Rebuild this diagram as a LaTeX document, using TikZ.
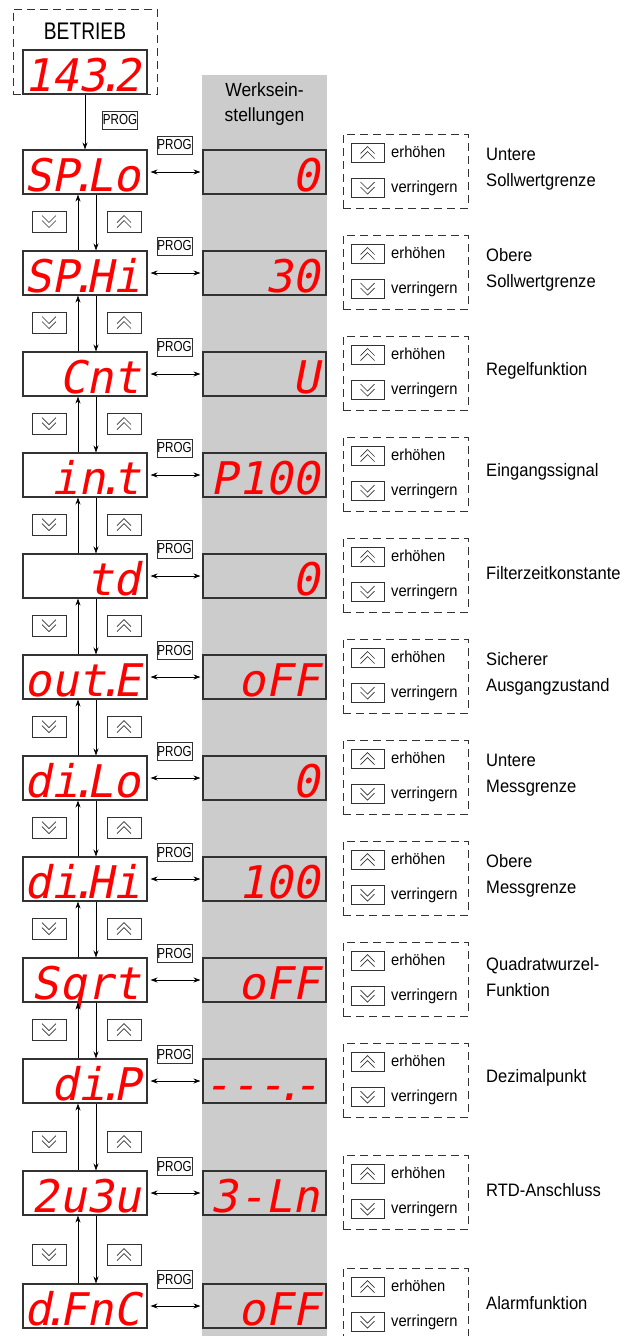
\documentclass[tikz,border=0pt]{standalone}
\usepackage{fontspec}
\usetikzlibrary{arrows.meta,calc}
\setmainfont{Liberation Sans}[FakeStretch=0.92]
\newfontfamily\condfont{Liberation Sans}[FakeStretch=0.8]
\newfontfamily\segfont{DejaVu Sans Mono}[FakeSlant=0.2]
\newcommand\dt{\makebox[0.16em]{.}}
\definecolor{colgray}{RGB}{204,204,204}
\definecolor{edge}{RGB}{50,50,50}
\definecolor{segred}{RGB}{255,0,0}
\tikzset{
 disp/.style={draw=edge, line width=1.1pt, minimum width=124pt, minimum height=44pt, inner sep=0pt},
 rdisp/.style={disp, fill=colgray, minimum width=123pt},
 segtext/.style={inner sep=0pt, text=segred, font=\segfont\fontsize{45}{45}\selectfont, anchor=base east},
 progbox/.style={draw=edge, line width=0.8pt, minimum width=35pt, minimum height=18pt, inner sep=0pt, font=\condfont\fontsize{14.5}{14.5}\selectfont},
 keybox/.style={draw=edge, line width=0.8pt, minimum width=34pt, minimum height=21pt, inner sep=0pt},
 smallkey/.style={keybox, minimum width=33pt, minimum height=19pt},
 grpbox/.style={draw=edge, dash pattern=on 8pt off 5pt, line width=0.9pt, minimum width=125pt, minimum height=74pt, inner sep=0pt},
 keylabel/.style={anchor=west, inner sep=0pt, font=\fontsize{16}{17}\selectfont},
 desc/.style={anchor=west, inner sep=0pt, align=left, font=\fontsize{18}{26}\selectfont},
 arr/.style={line width=0.8pt, draw=black, -{Stealth[length=7pt,width=5pt]}},
 darr/.style={line width=0.8pt, draw=black, {Stealth[length=7pt,width=5pt]}-{Stealth[length=7pt,width=5pt]}},
 upicon/.pic={\draw[line width=0.7pt, edge] (-7,1)--(0,-6)--(7,1) (-7,6)--(0,-1)--(7,6);},
 dnicon/.pic={\draw[line width=0.7pt, edge] (-7,-6)--(0,1)--(7,-6) (-7,-1)--(0,6)--(7,-1);}
}
\begin{document}
\begin{tikzpicture}[x=1pt,y=-1pt]
\useasboundingbox (0,0) rectangle (624,1336);
\clip (0,0) rectangle (624,1336);
\fill[colgray] (202,75) rectangle (327,1336);
\node[font=\fontsize{19}{25}\selectfont, align=center, inner sep=0pt] (werk) at (264.5,104.5) {Werksein-\\stellungen};
% Betrieb
\node[draw=edge, dash pattern=on 8pt off 5pt, line width=0.9pt, minimum width=144pt, minimum height=85pt, inner sep=0pt] (betr) at (85,51.5) {};
\node[font=\condfont\fontsize{24}{24}\selectfont, inner sep=0pt] (betrt) at (85,31) {BETRIEB};
\node[disp] (L0) at (85,72) {};
\node[segtext] (LT0) at ($(L0.south east)+(-7,-3)$) {143\dt2};
\node[progbox] (P0) at (120,120) {PROG};
% rows
\foreach \i/\y/\lt/\rt/\desctext in {
 1/150/{SP\dt Lo}/{0}/{Untere\\Sollwertgrenze},
 2/251/{SP\dt Hi}/{30}/{Obere\\Sollwertgrenze},
 3/352/{Cnt}/{U}/{Regelfunktion},
 4/453/{in\dt t}/{P100}/{Eingangssignal},
 5/554/{td}/{0}/{Filterzeitkonstante},
 6/655/{out\dt E}/{oFF}/{Sicherer\\Ausgangzustand},
 7/756/{di\dt Lo}/{0}/{Untere\\Messgrenze},
 8/857/{di\dt Hi}/{100}/{Obere\\Messgrenze},
 9/958/{Sqrt}/{oFF}/{Quadratwurzel-\\Funktion},
 10/1059/{di\dt P}/{---\dt -}/{Dezimalpunkt},
 11/1171/{2u3u}/{3-Ln}/{RTD-Anschluss},
 12/1284/{d\dt FnC}/{oFF}/{Alarmfunktion}}{
 \node[disp] (L\i) at (85,\y+22) {};
 \node[segtext] (LT\i) at ($(L\i.south east)+(-7,-3)$) {\lt};
 \node[rdisp] (R\i) at (264.5,\y+22) {};
 \node[segtext] (RT\i) at ($(R\i.south east)+(-7,-3)$) {\rt};
 \node[progbox] (P\i) at (174.5,\y-5) {PROG};
 \draw[darr] ([xshift=3pt]L\i.east) -- ([xshift=-2pt]R\i.west);
 \node[grpbox] (G\i) at (405.5,\y+21) {};
 \node[smallkey] (KU\i) at (367.5,\y+2.5) {};
 \pic at (KU\i) {upicon};
 \node[smallkey] (KD\i) at (367.5,\y+38) {};
 \pic at (KD\i) {dnicon};
 \node[keylabel] (EU\i) at (391,\y+2) {erhöhen};
 \node[keylabel] (ED\i) at (391,\y+38) {verringern};
 \node[desc] (D\i) at (486,\y+19) {\desctext};
}
\draw[arr] (L0.south) -- (L1.north);
\foreach \i/\j/\yj in {1/2/251,2/3/352,3/4/453,4/5/554,5/6/655,6/7/756,7/8/857,8/9/958,9/10/1059,10/11/1171,11/12/1284}{
 \draw[arr] ([xshift=11pt]L\i.south) -- ([xshift=11pt]L\j.north);
 \draw[arr] ([xshift=-7pt]L\j.north) -- ([xshift=-7pt]L\i.south);
 \node[keybox] (BD\i) at (49,\yj-29.5) {};
 \pic at (BD\i) {dnicon};
 \node[keybox] (BU\i) at (124,\yj-29.5) {};
 \pic at (BU\i) {upicon};
}
\end{tikzpicture}
\end{document}
